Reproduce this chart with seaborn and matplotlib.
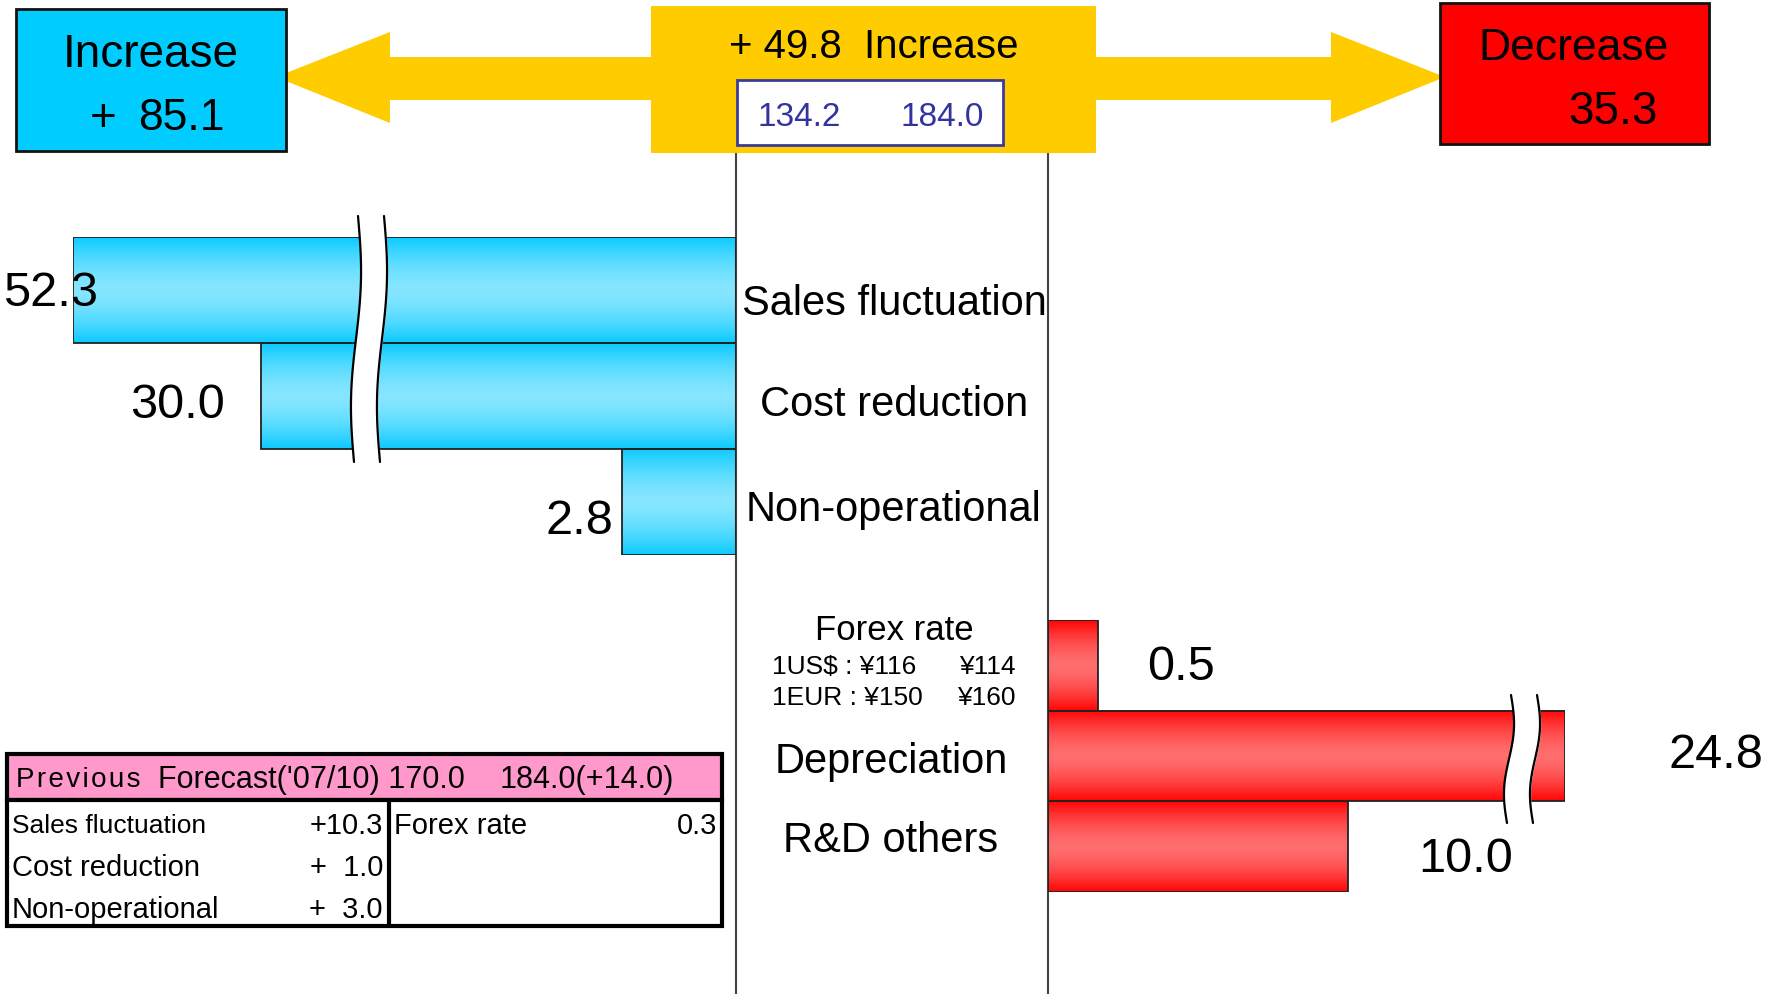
import numpy as np
import matplotlib
matplotlib.use('Agg')
import matplotlib.pyplot as plt
import matplotlib.patches as mpatches
import seaborn as sns

# data
up_items = ['Sales fluctuation', 'Cost reduction', 'Non-operational']
up_values = [52.3, 30.0, 2.8]
down_items = ['Forex rate', 'Depreciation', 'R&D others']
down_values = [0.5, 24.8, 10.0]
total_up = 85.1
total_down = 35.3
net_change = 49.8
profit_before = 134.2
profit_after = 184.0
prev_forecast = ['\u200a'.join('Previous'), "Forecast('07/10) 170.0", '184.0(+14.0)']
prev_up_items = ['Sales fluctuation', 'Cost reduction', 'Non-operational']
prev_up_values = ['+10.3', '+  1.0', '+  3.0']
prev_down_items = ['Forex rate']
prev_down_values = ['0.3']
forex_currency = ['1US$ : ', '1EUR : ']
forex_before = ['¥116', '¥150']
forex_after = ['¥114', '¥160']

sns.set_style('white')
plt.rcParams['font.family'] = ['Liberation Sans', 'DejaVu Sans']
plt.rcParams['text.color'] = 'black'

W, H = 1781, 994
fig = plt.figure(figsize=(W / 100, H / 100), dpi=100)


def px_axes(x0, y0, x1, y1, z):
    ax = fig.add_axes([x0 / W, 1 - y1 / H, (x1 - x0) / W, (y1 - y0) / H])
    ax.set_zorder(z)
    return ax


ax_bg = px_axes(0, 0, W, H, 0)
ax_top = px_axes(0, 0, W, H, 3)
for a in (ax_bg, ax_top):
    a.set_xlim(0, W)
    a.set_ylim(H, 0)
    a.axis('off')
    a.patch.set_alpha(0)

# power scale to squeeze the long bars (they get break marks)
fwd = lambda v: np.sign(v) * np.abs(v) ** 0.6
inv = lambda v: np.sign(v) * np.abs(v) ** (1 / 0.6)

ax_up = px_axes(73, 237, 736, 555, 1)
sns.barplot(x=up_values, y=up_items, orient='h', width=1, color='white',
            edgecolor='#222222', linewidth=1.3, ax=ax_up)
ax_up.set_xscale('function', functions=(fwd, inv))
ax_up.set_xlim(max(up_values), 0)
ax_up.set_ylim(len(up_items) - 0.5, -0.5)

ax_dn = px_axes(1048, 620, 1565, 892, 1)
sns.barplot(x=down_values, y=down_items, orient='h', width=1, color='white',
            edgecolor='#222222', linewidth=1.3, ax=ax_dn)
ax_dn.set_xscale('function', functions=(fwd, inv))
ax_dn.set_xlim(0, max(down_values))
ax_dn.set_ylim(len(down_items) - 0.5, -0.5)

for a in (ax_up, ax_dn):
    a.axis('off')
    a.patch.set_alpha(0)
    for p in a.patches:
        p.set_facecolor('none')


def gradient(edge, mid, n=64):
    t = np.abs(np.linspace(-1, 1, n))[:, None]
    e = np.array(matplotlib.colors.to_rgb(edge))
    m = np.array(matplotlib.colors.to_rgb(mid))
    return (m + (e - m) * t ** 1.6)[:, None, :]


# vertical gradient fill behind each bar outline
for a, edge, mid in ((ax_up, '#0ccaff', '#86e6ff'), (ax_dn, '#ff0606', '#ff6e6e')):
    for p in a.patches:
        bb = p.get_window_extent()
        (bx0, by0), (bx1, by1) = ax_bg.transData.inverted().transform([[bb.x0, bb.y0], [bb.x1, bb.y1]])
        ax_bg.imshow(gradient(edge, mid), extent=(min(bx0, bx1), max(bx0, bx1), max(by0, by1), min(by0, by1)),
                     aspect='auto', interpolation='bilinear', zorder=1)
ax_bg.set_xlim(0, W)
ax_bg.set_ylim(H, 0)

# center divider lines
for x in (736, 1048):
    ax_bg.plot([x, x], [150, H], color='#444444', lw=1.5, zorder=2)

# top section: arrow and boxes
arrow = mpatches.Polygon([[276, 77], [390, 32], [390, 57], [1331, 57], [1331, 32], [1445, 77],
                          [1331, 123], [1331, 100], [390, 100], [390, 123]],
                         closed=True, facecolor='#ffcc00', edgecolor='none')
ax_top.add_patch(arrow)
ax_top.add_patch(mpatches.Rectangle((651, 6), 445, 147, facecolor='#ffcc00', edgecolor='none'))
ax_top.add_patch(mpatches.Rectangle((737, 80), 266, 65, facecolor='white', edgecolor='#3b3b9b', lw=2))
ax_top.add_patch(mpatches.Rectangle((16, 9), 270, 142, facecolor='#00ccff', edgecolor='#111111', lw=2))
ax_top.add_patch(mpatches.Rectangle((1440, 3), 269, 141, facecolor='#ff0000', edgecolor='#111111', lw=2))

ax_top.text(151, 55, 'Increase', ha='center', va='center', fontsize=33)
ax_top.text(103, 119, '+', ha='center', va='center', fontsize=33)
ax_top.text(181, 119, f'{total_up}', ha='center', va='center', fontsize=32)
ax_top.text(1574, 48, 'Decrease', ha='center', va='center', fontsize=32)
ax_top.text(1613, 112, f'{total_down}', ha='center', va='center', fontsize=33)
ax_top.text(874, 47, f'+ {net_change}  Increase', ha='center', va='center', fontsize=29)
ax_top.text(799, 117, f'{profit_before}', ha='center', va='center', fontsize=24, color='#3333a0')
ax_top.text(942, 117, f'{profit_after}', ha='center', va='center', fontsize=24, color='#3333a0')

# category labels
label_y = [304, 405, 510]
for name, y in zip(up_items, label_y):
    ax_top.text(894, y, name, ha='center', va='center', fontsize=30)
ax_top.text(894, 630, down_items[0], ha='center', va='center', fontsize=25)
for i in range(2):
    y = 667 + i * 31
    ax_top.text(772, y, forex_currency[i] + forex_before[i], ha='left', va='center', fontsize=19)
    ax_top.text(1016, y, forex_after[i], ha='right', va='center', fontsize=19)
ax_top.text(891, 762, down_items[1], ha='center', va='center', fontsize=30)
ax_top.text(891, 841, down_items[2], ha='center', va='center', fontsize=30)

# value labels
for v, (x, y) in zip(up_values, [(51, 294), (177, 405), (579, 521)]):
    ax_top.text(x, y, f'{v:.1f}', ha='center', va='center', fontsize=35)
for v, (x, y) in zip(down_values, [(1181, 668), (1716, 755), (1466, 860)]):
    ax_top.text(x, y, f'{v:.1f}', ha='center', va='center', fontsize=35)


# break marks
def break_mark(xc, y0, y1, gap=26):
    yy = np.linspace(y0, y1, 80)
    wig = 4 * np.sin((yy - y0) / (y1 - y0) * 2 * np.pi) - 4 * (yy - y0) / (y1 - y0)
    xl = xc - gap / 2 + wig
    xr = xc + gap / 2 + wig
    ax_top.fill_betweenx(yy, xl, xr, color='white', zorder=4)
    ax_top.plot(xl, yy, color='black', lw=1.6, zorder=5)
    ax_top.plot(xr, yy, color='black', lw=1.6, zorder=5)


break_mark(371, 216, 462)
break_mark(1524, 695, 823)

# previous forecast table
ax_top.add_patch(mpatches.Rectangle((7, 754), 715, 46, facecolor='#ff99cc', edgecolor='black', lw=3))
ax_top.add_patch(mpatches.Rectangle((7, 800), 715, 126, facecolor='white', edgecolor='black', lw=3))
ax_top.plot([389, 389], [800, 926], color='black', lw=3)
ax_top.text(16, 780, prev_forecast[0], ha='left', va='center', fontsize=20)
ax_top.text(158, 780, prev_forecast[1], ha='left', va='center', fontsize=22)
ax_top.text(500, 780, prev_forecast[2], ha='left', va='center', fontsize=22)
for i, (n, v) in enumerate(zip(prev_up_items, prev_up_values)):
    y = 826 + i * 42
    ax_top.text(12, y, n, ha='left', va='center', fontsize=19 if i == 0 else 21)
    ax_top.text(383, y, v, ha='right', va='center', fontsize=21)
ax_top.text(394, 826, prev_down_items[0], ha='left', va='center', fontsize=21)
ax_top.text(717, 826, prev_down_values[0], ha='right', va='center', fontsize=21)

fig.savefig('out.png', dpi=100)
